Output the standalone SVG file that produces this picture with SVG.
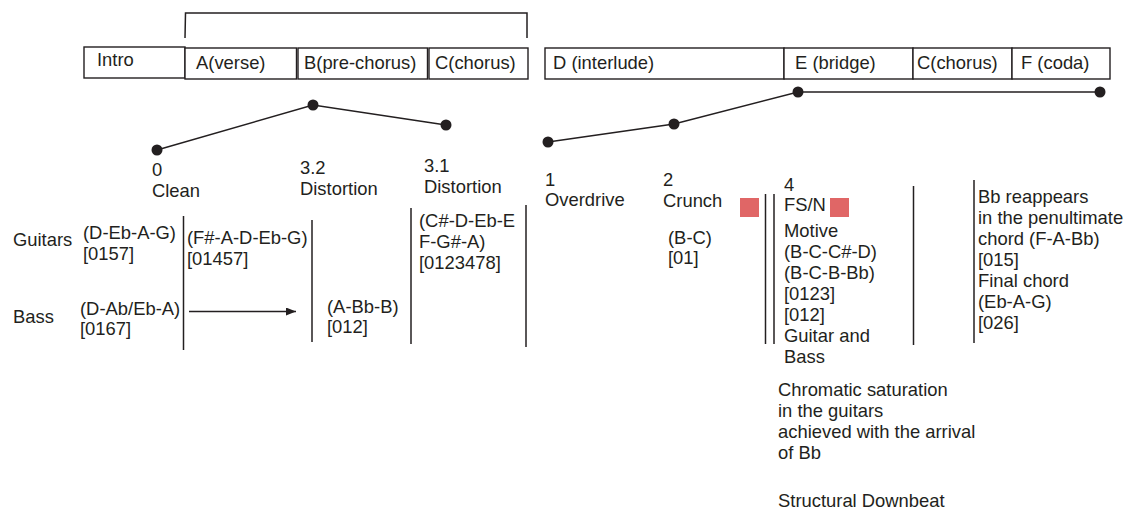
<svg xmlns="http://www.w3.org/2000/svg" width="1127" height="512" viewBox="0 0 1127 512">
<style>
text{font-family:"Liberation Sans",Arial,sans-serif;font-size:18.4px;fill:#231f20}
.box{fill:#fff;stroke:#231f20;stroke-width:1.4}
.ln{stroke:#231f20;stroke-width:1.5;fill:none}
.dot{fill:#231f20}
.red{fill:#e06666}
</style>
<defs>
<marker id="ah" viewBox="0 0 10 8" refX="10" refY="4" markerWidth="10" markerHeight="8" markerUnits="userSpaceOnUse" orient="auto">
<path d="M0,0 L10,4 L0,8 z" fill="#231f20"/>
</marker>
</defs>
<rect width="1127" height="512" fill="#fff"/>
<g id="bracket"><path class="ln" d="M185,38 L185.5,13 L527,13 L527,38"/></g>
<g id="sec-intro"><rect class="box" x="84" y="47" width="101" height="31"/><text x="97" y="66">Intro</text></g>
<g id="sec-a"><rect class="box" x="185" y="48" width="111.5" height="31"/><text x="196" y="69">A(verse)</text></g>
<g id="sec-b"><rect class="box" x="298" y="48" width="129.5" height="31"/><text x="304" y="69">B(pre-chorus)</text></g>
<g id="sec-c1"><rect class="box" x="429" y="48" width="99" height="31"/><text x="435" y="69">C(chorus)</text></g>
<g id="sec-d"><rect class="box" x="545" y="48" width="239" height="31"/><text x="553" y="69">D (interlude)</text></g>
<g id="sec-e"><rect class="box" x="784" y="48" width="129" height="31"/><text x="795" y="69">E (bridge)</text></g>
<g id="sec-c2"><rect class="box" x="913" y="48" width="99" height="31"/><text x="917" y="69">C(chorus)</text></g>
<g id="sec-f"><rect class="box" x="1012" y="48" width="98" height="31"/><text x="1021" y="69">F (coda)</text></g>
<g id="connectors">
<polyline class="ln" points="157,150 313,105 446,125"/>
<polyline class="ln" points="548,142 674,124 798,92 1100,92"/>
<line class="ln" x1="189" y1="311.5" x2="296" y2="311.5" marker-end="url(#ah)"/>
</g>
<g id="dots">
<circle class="dot" cx="157" cy="150" r="5.5"/>
<circle class="dot" cx="313" cy="105" r="5.5"/>
<circle class="dot" cx="446" cy="125" r="5.5"/>
<circle class="dot" cx="548" cy="142" r="5.5"/>
<circle class="dot" cx="674" cy="124" r="5.5"/>
<circle class="dot" cx="798" cy="92" r="5.5"/>
<circle class="dot" cx="1100" cy="92" r="5.5"/>
</g>
<g id="dividers">
<line class="ln" x1="183.5" y1="216" x2="183.5" y2="350"/>
<line class="ln" x1="312" y1="220" x2="312" y2="342"/>
<line class="ln" x1="411" y1="208" x2="411" y2="344"/>
<line class="ln" x1="526" y1="205" x2="526" y2="347"/>
<line class="ln" x1="765.5" y1="194" x2="765.5" y2="344"/>
<line class="ln" x1="774" y1="194" x2="774" y2="344"/>
<line class="ln" x1="913.5" y1="186" x2="913.5" y2="345"/>
<line class="ln" x1="974" y1="180" x2="974" y2="343"/>
</g>
<g id="tone-0"><text x="152" y="176">0</text><text x="152" y="197">Clean</text></g>
<g id="tone-32"><text x="300" y="174">3.2</text><text x="300" y="195">Distortion</text></g>
<g id="tone-31"><text x="424" y="172">3.1</text><text x="424" y="193">Distortion</text></g>
<g id="tone-1"><text x="545" y="186">1</text><text x="545" y="206">Overdrive</text></g>
<g id="tone-2"><text x="663" y="186">2</text><text x="663" y="207">Crunch</text></g>
<g id="tone-4"><text x="784" y="191">4</text><text x="784" y="211">FS/N</text></g>
<g id="markers"><rect class="red" x="740" y="198" width="19" height="19"/><rect class="red" x="830" y="198" width="19" height="19"/></g>
<g id="row-labels"><text x="13" y="246">Guitars</text><text x="13" y="323">Bass</text></g>
<g id="g-intro"><text x="83" y="239">(D-Eb-A-G)</text><text x="83" y="260">[0157]</text></g>
<g id="g-a"><text x="187" y="244">(F#-A-D-Eb-G)</text><text x="187" y="265">[01457]</text></g>
<g id="g-c"><text x="419" y="227">(C#-D-Eb-E</text><text x="419" y="248">F-G#-A)</text><text x="419" y="269">[0123478]</text></g>
<g id="b-intro"><text x="80" y="315">(D-Ab/Eb-A)</text><text x="80" y="335">[0167]</text></g>
<g id="b-b"><text x="327" y="313">(A-Bb-B)</text><text x="327" y="333">[012]</text></g>
<g id="crunch-set"><text x="668" y="244">(B-C)</text><text x="668" y="264">[01]</text></g>
<g id="motive"><text x="784" y="237">Motive</text><text x="784" y="258">(B-C-C#-D)</text><text x="784" y="279">(B-C-B-Bb)</text><text x="784" y="300">[0123]</text><text x="784" y="321">[012]</text><text x="784" y="342">Guitar and</text><text x="784" y="363">Bass</text></g>
<g id="coda-note"><text x="978" y="203">Bb reappears</text><text x="978" y="224">in the penultimate</text><text x="978" y="245">chord (F-A-Bb)</text><text x="978" y="266">[015]</text><text x="978" y="287">Final chord</text><text x="978" y="308">(Eb-A-G)</text><text x="978" y="329">[026]</text></g>
<g id="chromatic-note"><text x="778" y="396">Chromatic saturation</text><text x="778" y="417">in the guitars</text><text x="778" y="438">achieved with the arrival</text><text x="778" y="459">of Bb</text></g>
<g id="downbeat-note"><text x="778" y="507">Structural Downbeat</text></g>
</svg>
